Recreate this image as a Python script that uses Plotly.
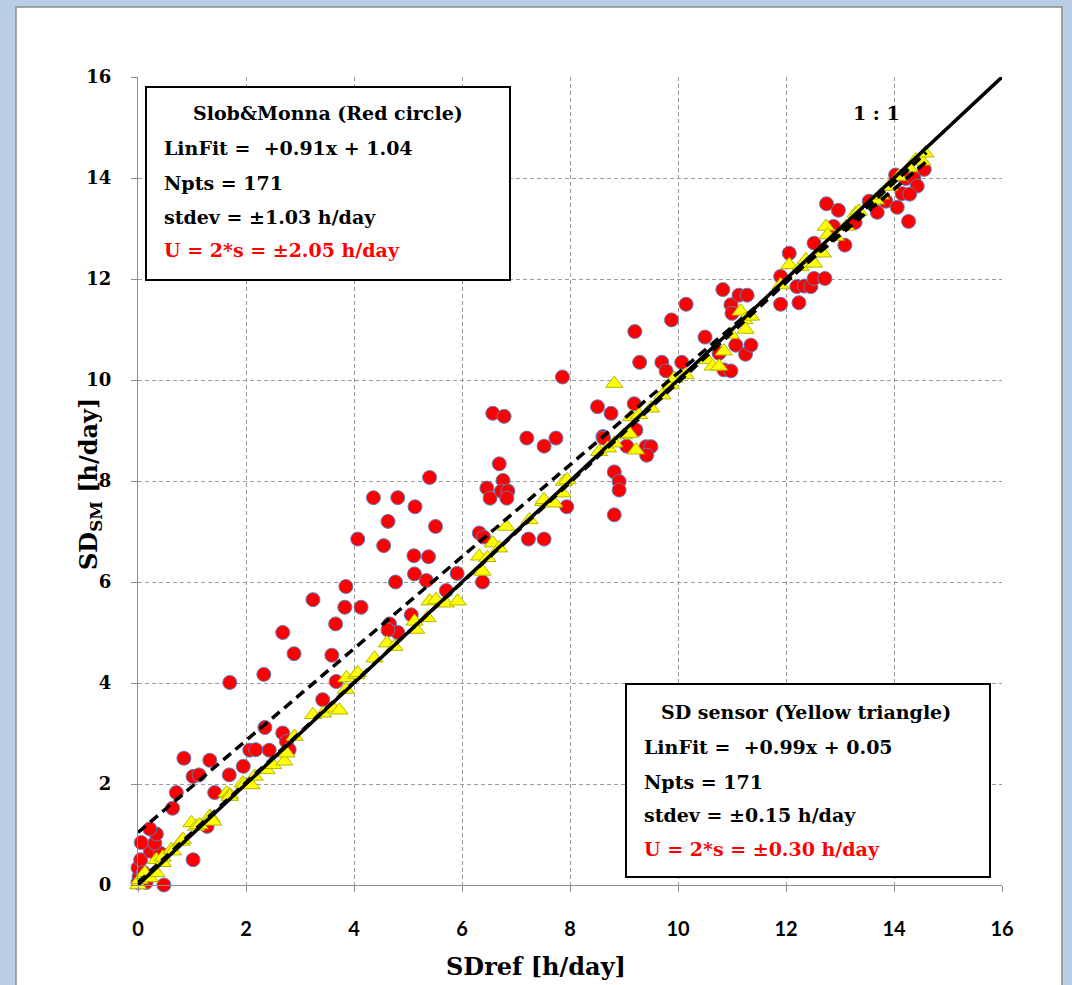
import plotly.graph_objects as go

# Sunshine duration: Slob&Monna estimate (red) and SD sensor (yellow) vs reference
sm_ref = [0.00, 0.02, 0.00, 0.05, 0.23, 0.41, 0.06, 0.31, 0.34, 0.22, 0.48, 1.02, 0.10, 0.15,
          0.64, 0.71, 1.42, 1.02, 1.13, 0.85, 1.33, 1.69, 1.95, 2.07, 2.18, 2.43, 2.68, 2.75,
          2.80, 2.35, 1.28, 1.70, 2.33, 2.68, 2.89, 3.42, 3.59, 3.67, 3.24, 3.66, 3.83, 3.85,
          4.13, 4.07, 4.55, 4.63, 4.36, 4.81, 5.13, 5.40, 5.51, 5.11, 5.38, 5.12, 5.34, 4.77,
          5.91, 5.71, 5.06, 4.66, 4.81, 4.63, 6.32, 6.40, 6.38, 6.57, 6.78, 6.69, 6.76, 6.46,
          6.52, 6.73, 6.85, 6.83, 7.20, 7.23, 7.52, 7.52, 7.74, 7.86, 7.94, 8.51, 8.76, 8.61,
          8.62, 8.82, 8.91, 8.91, 8.82, 9.05, 9.19, 9.22, 9.41, 9.50, 9.42, 9.20, 9.29, 9.70,
          9.78, 9.88, 10.07, 10.15, 10.50, 10.76, 10.83, 10.85, 10.98, 10.98, 11.00, 11.07,
          11.13, 11.25, 11.28, 11.35, 11.90, 11.90, 12.06, 12.20, 12.24, 12.34, 12.46, 12.52,
          12.72, 12.52, 12.75, 12.88, 12.97, 13.09, 13.28, 13.54, 13.69, 13.85, 14.06, 14.27,
          14.03, 14.22, 14.37, 14.43, 14.15, 14.29, 14.56]
sm_val = [0.05, 0.17, 0.34, 0.50, 0.67, 0.63, 0.84, 0.83, 1.01, 1.11, 0.00, 0.50, 0.25, 0.05,
          1.52, 1.83, 1.83, 2.15, 2.18, 2.51, 2.47, 2.18, 2.35, 2.67, 2.68, 2.67, 3.01, 2.84,
          2.68, 3.12, 1.16, 4.01, 4.17, 5.00, 4.58, 3.67, 4.55, 4.03, 5.65, 5.17, 5.50, 5.91,
          5.50, 6.85, 6.72, 7.20, 7.67, 7.67, 7.49, 8.07, 7.10, 6.52, 6.50, 6.16, 6.03, 6.00,
          6.17, 5.83, 5.35, 5.17, 5.00, 5.05, 6.97, 6.89, 6.00, 9.34, 9.28, 8.34, 8.01, 7.86,
          7.66, 7.80, 7.80, 7.66, 8.85, 6.85, 6.85, 8.69, 8.85, 10.06, 7.49, 9.47, 9.34, 8.88,
          8.85, 8.18, 7.99, 7.82, 7.33, 8.69, 9.53, 9.01, 8.68, 8.68, 8.51, 10.96, 10.35, 10.35,
          10.18, 11.19, 10.35, 11.50, 10.85, 10.53, 11.79, 10.20, 10.18, 11.49, 11.32, 10.69,
          11.68, 10.51, 11.68, 10.69, 11.50, 12.05, 12.51, 11.85, 11.53, 11.86, 11.85, 12.01,
          12.01, 12.71, 13.49, 13.04, 13.36, 12.67, 13.12, 13.54, 13.32, 13.54, 13.42, 13.14,
          14.06, 13.99, 13.99, 13.84, 13.69, 13.68, 14.17]

sensor_ref = [0.00, 0.03, 0.10, 0.13, 0.22, 0.34, 0.34, 0.46, 0.46, 0.62, 0.65, 0.80, 0.83,
              0.99, 1.08, 1.14, 1.33, 1.36, 1.39, 1.64, 1.70, 1.70, 1.94, 1.97, 2.10, 2.16,
              2.38, 2.50, 2.71, 2.75, 2.90, 3.24, 3.43, 3.61, 3.73, 3.85, 3.86, 4.04, 4.07,
              4.38, 4.61, 4.75, 5.12, 5.15, 5.36, 5.40, 5.52, 5.70, 5.92, 6.32, 6.38, 6.47,
              6.57, 6.69, 6.82, 7.25, 7.50, 7.52, 7.71, 7.86, 7.89, 7.95, 8.54, 8.70, 8.82,
              8.82, 9.00, 9.10, 9.13, 9.22, 9.28, 9.50, 9.71, 9.87, 9.93, 10.14, 10.54, 10.64,
              10.76, 10.85, 10.98, 11.16, 11.23, 11.25, 11.35, 11.90, 12.06, 12.27, 12.37,
              12.52, 12.68, 12.74, 12.77, 12.92, 13.11, 13.29, 13.35, 13.66, 13.75, 13.91,
              14.09, 14.28, 14.40, 14.52, 14.58]
sensor_val = [0.00, 0.10, 0.20, 0.24, 0.14, 0.24, 0.50, 0.44, 0.55, 0.70, 0.67, 0.86, 0.90,
              1.23, 1.16, 1.19, 1.36, 1.33, 1.26, 1.82, 1.79, 1.75, 2.02, 1.99, 1.98, 2.15,
              2.28, 2.38, 2.45, 2.61, 2.94, 3.37, 3.40, 3.50, 3.46, 3.87, 4.10, 4.16, 4.20,
              4.49, 4.79, 4.72, 5.22, 5.06, 5.29, 5.62, 5.65, 5.58, 5.62, 6.51, 6.21, 6.48,
              6.77, 6.67, 7.10, 7.23, 7.59, 7.63, 7.56, 7.76, 7.99, 8.02, 8.58, 8.65, 8.75,
              9.93, 8.91, 8.94, 9.27, 8.61, 9.31, 9.44, 9.70, 9.90, 10.03, 10.10, 10.40, 10.27,
              10.27, 10.57, 10.90, 11.36, 11.19, 11.00, 11.26, 11.88, 12.28, 12.24, 12.38,
              12.31, 12.51, 13.04, 12.87, 12.84, 13.04, 13.30, 13.34, 13.56, 13.66, 13.83,
              14.03, 14.20, 14.36, 14.33, 14.49]

# Linear fit coefficients (slope, offset) as reported in the boxes
sm_fit = (0.91, 1.04)
sensor_fit = (0.99, 0.05)
fit_x = [0.0, 14.6]
one_to_one = [0.0, 16.0]
ticks = [0, 2, 4, 6, 8, 10, 12, 14, 16]

W, H = 1072, 985
L, R, T, B = 138, 1002, 77, 885


def px(x):
    return (x - L) / (R - L)


def py(y):
    return (B - y) / (B - T)


fig = go.Figure()
fig.add_trace(go.Scatter(
    x=sm_ref, y=sm_val, mode="markers", cliponaxis=False,
    marker=dict(symbol="circle", size=14, color="#ff0000",
                line=dict(color="#5b7fc0", width=1))))
fig.add_trace(go.Scatter(
    x=sensor_ref, y=sensor_val, mode="markers", cliponaxis=False,
    marker=dict(symbol="triangle-up", size=15, color="#ffff00",
                line=dict(color="#b5b500", width=1))))
fig.add_trace(go.Scatter(
    x=one_to_one, y=one_to_one, mode="lines",
    line=dict(color="black", width=3.5)))
for slope, off in (sm_fit, sensor_fit):
    fig.add_trace(go.Scatter(
        x=fit_x, y=[slope * v + off for v in fit_x], mode="lines",
        line=dict(color="black", width=3.5, dash="10px,6px")))

axis_common = dict(
    range=[0, 16], tickvals=ticks, showgrid=True, gridcolor="#9a9a9a", gridwidth=1,
    griddash="4px,3px", showline=True, linecolor="#8c8c8c", linewidth=1.3,
    ticks="outside", ticklen=6, tickcolor="#8c8c8c", zeroline=False)

fig.update_xaxes(**axis_common, ticklabelstandoff=20,
                 tickfont=dict(family="Lato", size=20, color="black", weight="bold"))
fig.update_yaxes(**axis_common, ticklabelstandoff=16,
                 tickfont=dict(family="DejaVu Serif", size=18, color="black", weight="bold"))

shapes = [
    # chart area panel with its grey border
    dict(type="rect", xref="paper", yref="paper", layer="below",
         x0=px(16), x1=px(1062), y0=py(7), y1=py(W),
         fillcolor="white", line=dict(color="#8c8c8c", width=1.5)),
    # statistics boxes
    dict(type="rect", xref="paper", yref="paper", layer="above",
         x0=px(146), x1=px(510), y0=py(87), y1=py(280),
         fillcolor="white", line=dict(color="black", width=2)),
    dict(type="rect", xref="paper", yref="paper", layer="above",
         x0=px(626), x1=px(990), y0=py(684), y1=py(877),
         fillcolor="white", line=dict(color="black", width=2)),
]

box_font = dict(family="DejaVu Serif", size=19, color="black")
red_font = dict(family="DejaVu Serif", size=19, color="#ff0000")
title_font = dict(family="DejaVu Serif", size=24, color="black")


def note(text, x, y, font, xanchor="left", angle=0):
    return dict(text=text, xref="paper", yref="paper", x=px(x), y=py(y),
                xanchor=xanchor, yanchor="middle", showarrow=False, font=font,
                textangle=angle)


annotations = [
    note("<b>Slob&amp;Monna (Red circle)</b>", 328, 113, box_font, "center"),
    note("<b>LinFit =  +0.91x + 1.04</b>", 162, 148, box_font),
    note("<b>Npts = 171</b>", 162, 183, box_font),
    note("<b>stdev = ±1.03 h/day</b>", 162, 217, box_font),
    note("<b>U = 2*s = ±2.05 h/day</b>", 162, 250, red_font),
    note("<b>SD sensor (Yellow triangle)</b>", 806, 712, box_font, "center"),
    note("<b>LinFit =  +0.99x + 0.05</b>", 642, 747, box_font),
    note("<b>Npts = 171</b>", 642, 782, box_font),
    note("<b>stdev = ±0.15 h/day</b>", 642, 815, box_font),
    note("<b>U = 2*s = ±0.30 h/day</b>", 642, 849, red_font),
    note("<b>1 : 1</b>", 876, 113, box_font, "center"),
    # axis titles
    note("<b>SDref [h/day]</b>", 536, 966, title_font, "center"),
    note("<b>SD<sub>SM</sub> [h/day]</b>", 90, 484, title_font, "center", -90),
]

fig.update_layout(
    width=W, height=H, showlegend=False,
    paper_bgcolor="#b9cde5", plot_bgcolor="white",
    margin=dict(l=L, r=W - R, t=T, b=H - B),
    shapes=shapes, annotations=annotations,
)

fig.write_html("out.html")
